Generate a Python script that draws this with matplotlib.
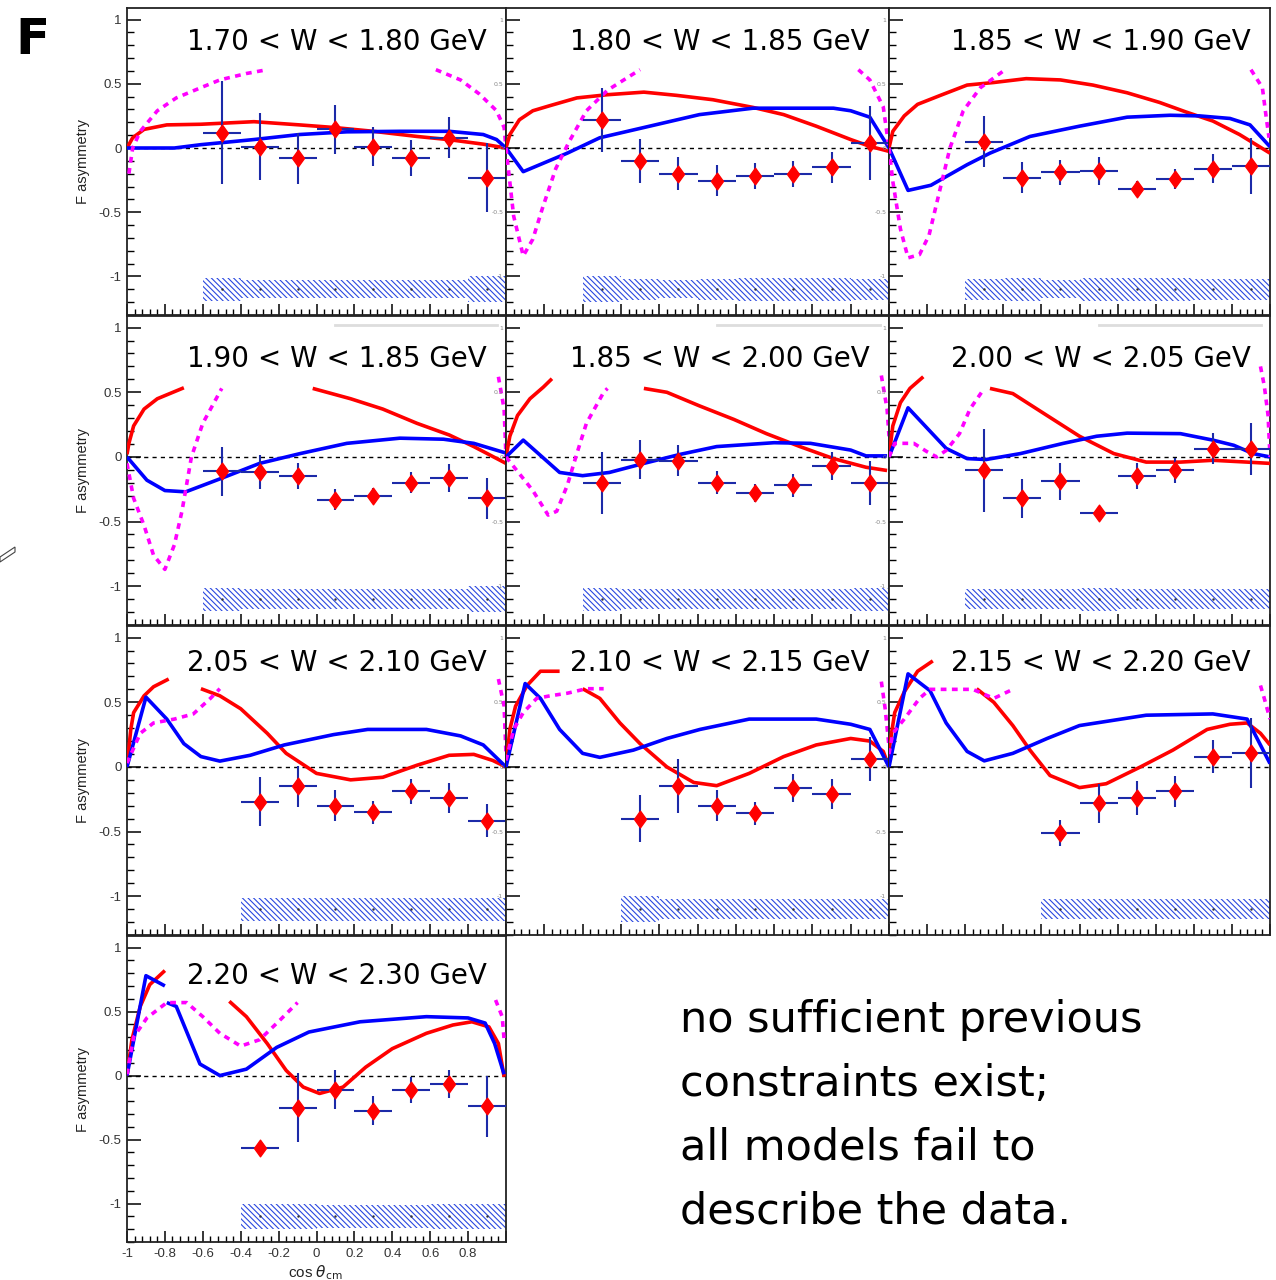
import numpy as np
import matplotlib
matplotlib.use("Agg")
import matplotlib.pyplot as plt
from matplotlib.path import Path
from matplotlib.ticker import MultipleLocator, FixedLocator, FixedFormatter

nan = np.nan

# ---------------- data ----------------
titles = ["1.70 < W < 1.80 GeV", "1.80 < W < 1.85 GeV", "1.85 < W < 1.90 GeV",
          "1.90 < W < 1.85 GeV", "1.85 < W < 2.00 GeV", "2.00 < W < 2.05 GeV",
          "2.05 < W < 2.10 GeV", "2.10 < W < 2.15 GeV", "2.15 < W < 2.20 GeV",
          "2.20 < W < 2.30 GeV"]

bin_centers = [-0.5, -0.3, -0.1, 0.1, 0.3, 0.5, 0.7, 0.9]

asym = [
    [0.12, 0.01, -0.08, 0.145, 0.01, -0.08, 0.08, -0.23],
    [0.22, -0.10, -0.20, -0.255, -0.22, -0.20, -0.15, 0.04],
    [0.05, -0.23, -0.19, -0.18, -0.32, -0.24, -0.16, -0.14],
    [-0.11, -0.115, -0.15, -0.33, -0.30, -0.20, -0.165, -0.32],
    [-0.20, -0.02, -0.03, -0.20, -0.28, -0.22, -0.07, -0.20],
    [-0.105, -0.32, -0.19, -0.43, -0.15, -0.105, 0.065, 0.06],
    [nan, -0.27, -0.15, -0.30, -0.35, -0.19, -0.24, -0.415],
    [nan, -0.40, -0.15, -0.30, -0.36, -0.165, -0.21, 0.065],
    [nan, nan, -0.51, -0.28, -0.24, -0.19, 0.08, 0.105],
    [nan, -0.565, -0.25, -0.11, -0.275, -0.113, -0.066, -0.24],
]
stat_err = [
    [0.40, 0.26, 0.20, 0.19, 0.15, 0.14, 0.16, 0.27],
    [0.25, 0.17, 0.13, 0.12, 0.10, 0.10, 0.12, 0.29],
    [0.20, 0.12, 0.10, 0.11, 0.06, 0.08, 0.11, 0.22],
    [0.19, 0.13, 0.10, 0.08, 0.06, 0.08, 0.11, 0.16],
    [0.24, 0.15, 0.12, 0.09, 0.07, 0.09, 0.11, 0.17],
    [0.32, 0.15, 0.14, 0.05, 0.10, 0.10, 0.12, 0.20],
    [nan, 0.19, 0.16, 0.12, 0.09, 0.10, 0.115, 0.13],
    [nan, 0.18, 0.21, 0.12, 0.09, 0.11, 0.115, 0.17],
    [nan, nan, 0.10, 0.15, 0.13, 0.12, 0.125, 0.27],
    [nan, 0.03, 0.27, 0.155, 0.115, 0.105, 0.11, 0.24],
]
sys_err = [
    [0.09, 0.07, 0.07, 0.07, 0.07, 0.07, 0.07, 0.10],
    [0.10, 0.08, 0.07, 0.08, 0.09, 0.09, 0.09, 0.08],
    [0.08, 0.09, 0.07, 0.09, 0.09, 0.09, 0.08, 0.08],
    [0.09, 0.08, 0.08, 0.08, 0.08, 0.08, 0.08, 0.10],
    [0.09, 0.08, 0.08, 0.08, 0.08, 0.08, 0.08, 0.09],
    [0.08, 0.08, 0.08, 0.09, 0.08, 0.08, 0.08, 0.08],
    [nan, 0.09, 0.09, 0.09, 0.09, 0.09, 0.09, 0.09],
    [nan, 0.10, 0.08, 0.08, 0.08, 0.08, 0.08, 0.08],
    [nan, nan, 0.08, 0.08, 0.08, 0.08, 0.08, 0.08],
    [nan, 0.10, 0.10, 0.09, 0.09, 0.09, 0.10, 0.10],
]
sys_center = -1.1

# model curves (None = hidden behind the title box)
red_curves = [
    [(-1, 0), (-0.97, 0.08), (-0.91, 0.145), (-0.79, 0.18), (-0.61, 0.185), (-0.33, 0.205), (-0.09, 0.18),
     (0.09, 0.16), (0.3, 0.13), (0.53, 0.09), (0.7, 0.065), (0.88, 0.03), (1.0, 0.0)],
    [(-1, 0), (-0.98, 0.105), (-0.93, 0.22), (-0.86, 0.29), (-0.77, 0.33), (-0.63, 0.39), (-0.47, 0.415),
     (-0.28, 0.435), (-0.11, 0.41), (0.08, 0.376), (0.29, 0.316), (0.45, 0.26), (0.62, 0.17), (0.80, 0.066),
     (0.90, 0.013), (1.0, -0.026)],
    [(-1, 0), (-0.98, 0.13), (-0.92, 0.25), (-0.85, 0.34), (-0.73, 0.41), (-0.59, 0.49), (-0.45, 0.51),
     (-0.28, 0.54), (-0.10, 0.53), (0.07, 0.49), (0.25, 0.43), (0.42, 0.355), (0.56, 0.28), (0.70, 0.21),
     (0.84, 0.105), (1.0, -0.04)],
    [(-1, 0.02), (-0.99, 0.105), (-0.965, 0.24), (-0.91, 0.37), (-0.84, 0.45), (-0.70, 0.535), None,
     (-0.02, 0.53), (0.18, 0.45), (0.35, 0.37), (0.53, 0.26), (0.70, 0.17), (0.83, 0.08), (1.0, -0.05)],
    [(-1, 0.0), (-0.98, 0.16), (-0.94, 0.32), (-0.875, 0.45), (-0.805, 0.54), (-0.76, 0.605), None,
     (-0.28, 0.53), (-0.16, 0.5), (0.01, 0.395), (0.19, 0.29), (0.36, 0.18), (0.535, 0.08), (0.71, -0.013),
     (0.88, -0.08), (0.99, -0.105)],
    [(-1, 0), (-0.98, 0.24), (-0.94, 0.42), (-0.89, 0.53), (-0.82, 0.62), None, (-0.47, 0.53), (-0.35, 0.49),
     (-0.17, 0.32), (0.0, 0.16), (0.18, 0.026), (0.35, -0.04), (0.53, -0.04), (0.70, -0.026), (0.88, -0.04),
     (1.0, -0.05)],
    [(-1, 0), (-0.98, 0.29), (-0.965, 0.42), (-0.91, 0.55), (-0.86, 0.62), (-0.78, 0.68), None, (-0.61, 0.605),
     (-0.51, 0.55), (-0.40, 0.45), (-0.26, 0.26), (-0.16, 0.105), (0.0, -0.05), (0.18, -0.10), (0.35, -0.08),
     (0.53, 0.013), (0.70, 0.09), (0.83, 0.097), (0.93, 0.05), (1.0, 0.0)],
    [(-1, 0), (-0.98, 0.29), (-0.95, 0.47), (-0.89, 0.63), (-0.82, 0.74), (-0.72, 0.74), None, (-0.60, 0.605),
     (-0.51, 0.53), (-0.405, 0.34), (-0.30, 0.18), (-0.16, 0.0), (-0.02, -0.12), (0.10, -0.145), (0.27, -0.05),
     (0.45, 0.08), (0.62, 0.17), (0.80, 0.22), (0.90, 0.2), (0.97, 0.12), (1.0, 0.0)],
    [(-1, 0.05), (-0.995, 0.18), (-0.97, 0.42), (-0.92, 0.58), (-0.85, 0.74), (-0.77, 0.82), None,
     (-0.54, 0.605), (-0.45, 0.5), (-0.35, 0.32), (-0.26, 0.13), (-0.155, -0.066), (0.0, -0.16), (0.14, -0.13),
     (0.32, 0.0), (0.49, 0.13), (0.67, 0.29), (0.79, 0.33), (0.88, 0.34), (0.95, 0.26), (1.0, 0.17)],
    [(-1, 0), (-0.974, 0.28), (-0.93, 0.54), (-0.88, 0.71), (-0.80, 0.82), None, (-0.46, 0.58), (-0.37, 0.46),
     (-0.26, 0.25), (-0.16, 0.04), (-0.07, -0.09), (0.016, -0.14), (0.14, -0.09), (0.26, 0.066), (0.40, 0.21),
     (0.58, 0.33), (0.72, 0.395), (0.82, 0.42), (0.91, 0.38), (0.96, 0.25), (0.99, -0.01)],
]
blue_curves = [
    [(-1, 0), (-0.75, 0), (-0.61, 0.026), (-0.33, 0.066), (-0.09, 0.105), (0.16, 0.126), (0.44, 0.13),
     (0.7, 0.13), (0.88, 0.105), (0.95, 0.066), (1.0, 0.0)],
    [(-1, 0), (-0.91, -0.184), (-0.68, -0.04), (-0.51, 0.08), (-0.25, 0.17), (0.01, 0.26), (0.29, 0.31),
     (0.71, 0.31), (0.80, 0.29), (0.90, 0.24), (1.0, 0.0)],
    [(-1, 0), (-0.90, -0.33), (-0.78, -0.29), (-0.59, -0.13), (-0.47, -0.04), (-0.26, 0.09), (0.0, 0.17),
     (0.25, 0.24), (0.475, 0.255), (0.63, 0.25), (0.79, 0.23), (0.895, 0.18), (1.0, 0.01)],
    [(-1, 0), (-0.895, -0.18), (-0.80, -0.26), (-0.69, -0.27), (-0.51, -0.17), (-0.30, -0.05), (-0.086, 0.026),
     (0.16, 0.105), (0.44, 0.145), (0.67, 0.137), (0.83, 0.105), (1.0, 0.03)],
    [(-1, 0), (-0.91, 0.13), (-0.72, -0.12), (-0.60, -0.145), (-0.46, -0.12), (-0.28, -0.05), (-0.09, 0.02),
     (0.10, 0.08), (0.40, 0.11), (0.59, 0.105), (0.80, 0.053), (0.88, 0.008), (0.99, 0.008)],
    [(-1, 0), (-0.90, 0.38), (-0.70, 0.066), (-0.59, -0.013), (-0.49, -0.02), (-0.31, 0.026), (-0.085, 0.105),
     (0.09, 0.16), (0.25, 0.184), (0.53, 0.18), (0.70, 0.13), (0.81, 0.09), (0.91, 0.026), (1.0, 0.0)],
    [(-1, 0), (-0.90, 0.54), (-0.79, 0.37), (-0.70, 0.18), (-0.61, 0.08), (-0.51, 0.045), (-0.35, 0.09),
     (-0.17, 0.17), (0.09, 0.25), (0.27, 0.29), (0.58, 0.29), (0.76, 0.24), (0.88, 0.17), (1.0, 0.0)],
    [(-1, 0), (-0.90, 0.645), (-0.82, 0.53), (-0.72, 0.29), (-0.60, 0.105), (-0.51, 0.074), (-0.335, 0.13),
     (-0.16, 0.22), (0.013, 0.29), (0.27, 0.37), (0.62, 0.37), (0.80, 0.33), (0.90, 0.29), (1.0, 0.0)],
    [(-1, 0), (-0.90, 0.72), (-0.785, 0.59), (-0.70, 0.34), (-0.59, 0.12), (-0.50, 0.047), (-0.35, 0.105),
     (-0.17, 0.22), (0.0, 0.32), (0.35, 0.40), (0.70, 0.41), (0.88, 0.37), (1.0, 0.026)],
    [(-1, 0), (-0.90, 0.78), (-0.80, 0.70), None, (-0.79, 0.57), (-0.74, 0.54), (-0.615, 0.09), (-0.51, 0.0),
     (-0.37, 0.05), (-0.21, 0.22), (-0.04, 0.34), (0.23, 0.42), (0.58, 0.46), (0.80, 0.45), (0.89, 0.41),
     (0.94, 0.25), (0.99, 0.01)],
]
magenta_curves = [
    [(-0.99, -0.2), (-0.97, 0.0), (-0.93, 0.13), (-0.84, 0.29), (-0.74, 0.39), (-0.61, 0.47), (-0.51, 0.53),
     (-0.37, 0.58), (-0.26, 0.61), None, (0.63, 0.61), (0.76, 0.53), (0.86, 0.42), (0.95, 0.29), (0.99, 0.16),
     (1.0, 0.0)],
    [(-1, 0), (-0.96, -0.53), (-0.91, -0.84), (-0.86, -0.71), (-0.81, -0.47), (-0.74, -0.16), (-0.67, 0.05),
     (-0.58, 0.29), (-0.47, 0.45), (-0.30, 0.61), None, (0.84, 0.61), (0.90, 0.53), (0.97, 0.32), (1.0, 0.0)],
    [(-1, 0), (-0.98, -0.26), (-0.94, -0.63), (-0.90, -0.855), (-0.84, -0.83), (-0.79, -0.68), (-0.74, -0.37),
     (-0.68, 0.0), (-0.61, 0.29), (-0.52, 0.47), (-0.39, 0.61), None, (0.90, 0.61), (0.96, 0.47), (0.98, 0.24),
     (0.995, 0.08)],
    [(-1, -0.05), (-0.965, -0.32), (-0.91, -0.53), (-0.86, -0.76), (-0.80, -0.87), (-0.75, -0.68),
     (-0.71, -0.42), (-0.66, 0.0), (-0.60, 0.26), (-0.50, 0.53), None, (0.96, 0.62), (0.99, 0.37), (1.0, 0.0)],
    [(-1, 0), (-0.93, -0.13), (-0.86, -0.26), (-0.78, -0.45), (-0.735, -0.42), (-0.68, -0.22), (-0.63, 0.026),
     (-0.58, 0.26), (-0.49, 0.50), (-0.47, 0.53), None, (0.96, 0.63), (0.99, 0.37), (1.0, 0.16)],
    [(-1, 0), (-0.97, 0.105), (-0.87, 0.105), (-0.80, 0.04), (-0.75, 0.0), (-0.70, 0.05), (-0.63, 0.18),
     (-0.575, 0.37), (-0.50, 0.53), None, (0.95, 0.70), (0.97, 0.55), (0.99, 0.32), (1.0, 0.0)],
    [(-1, 0.03), (-0.93, 0.26), (-0.86, 0.34), (-0.75, 0.37), (-0.65, 0.41), (-0.56, 0.53), (-0.51, 0.605),
     None, (0.96, 0.68), (0.99, 0.47), (1.0, 0.1)],
    [(-1, 0.05), (-0.96, 0.29), (-0.91, 0.42), (-0.84, 0.53), (-0.77, 0.55), (-0.68, 0.57), (-0.58, 0.605),
     (-0.49, 0.605), None, (0.96, 0.66), (0.98, 0.45), (1.0, 0.16)],
    [(-1, 0.1), (-0.98, 0.26), (-0.92, 0.37), (-0.84, 0.53), (-0.785, 0.6), (-0.56, 0.6), (-0.45, 0.53),
     (-0.35, 0.6), None, (0.95, 0.63), (0.97, 0.53), (1.0, 0.37)],
    [(-1, 0.01), (-0.965, 0.30), (-0.895, 0.45), (-0.79, 0.57), (-0.685, 0.57), (-0.60, 0.46), (-0.51, 0.33),
     (-0.40, 0.23), (-0.30, 0.28), (-0.195, 0.43), (-0.10, 0.57), None, (0.945, 0.59), (0.98, 0.46),
     (0.99, 0.28)],
]

x_tick_labels = ["-1", "-0.8", "-0.6", "-0.4", "-0.2", "0", "0.2", "0.4", "0.6", "0.8", ""]
y_tick_labels = ["-1", "-0.5", "0", "0.5", "1"]

note_lines = ["no sufficient previous", "constraints exist;", "all models fail to", "describe the data."]


def to_xy(pts):
    xs, ys = [], []
    for p in pts:
        if p is None:
            xs.append(np.nan); ys.append(np.nan)
        else:
            xs.append(p[0]); ys.append(p[1])
    return np.array(xs), np.array(ys)


# ---------------- figure ----------------
W, H = 1276, 1280
fig = plt.figure(figsize=(W / 100, H / 100), dpi=100)
plt.rcParams['hatch.linewidth'] = 0.8

col_px = [(127, 506), (506, 889), (889, 1270)]
row_px = [(8, 315), (316, 625), (626, 935), (936, 1242)]
title_y = [0.89, 0.86, 0.88, 0.87]

RED = "#ff0000"
BLUE = "#0000ff"
MAG = "#ff00ff"
ERR = "#1c2aa8"
HATCH = "#2a48e0"

diamond = Path([(0, 1), (0.72, 0), (0, -1), (-0.72, 0), (0, 1)],
               [Path.MOVETO, Path.LINETO, Path.LINETO, Path.LINETO, Path.CLOSEPOLY])

tick_font = "Liberation Sans"
title_font = "DejaVu Sans"

for i in range(10):
    r, c = divmod(i, 3)
    x0, x1 = col_px[c]
    y0, y1 = row_px[r]
    ax = fig.add_axes([x0 / W, 1 - y1 / H, (x1 - x0) / W, (y1 - y0) / H])
    ax.set_xlim(-1, 1)
    ax.set_ylim(-1.3, 1.09)

    # systematic band
    sx = np.array(bin_centers)
    sh = np.array(sys_err[i])
    ok = ~np.isnan(sh)
    ax.bar(sx[ok], 2 * sh[ok], bottom=sys_center - sh[ok], width=0.2, fill=False,
           hatch="\\\\\\\\\\\\", edgecolor=HATCH, linewidth=0, zorder=1)
    ax.plot(sx[ok], np.full(ok.sum(), sys_center), ".", color="#333333", ms=1.5, zorder=1)

    # zero line
    ax.axhline(0, color="black", lw=1.0, ls=(0, (3, 3)), zorder=2)

    # model curves
    xr, yr = to_xy(red_curves[i])
    ax.plot(xr, yr, color=RED, lw=2.6, zorder=3, solid_capstyle="butt")
    xb, yb = to_xy(blue_curves[i])
    ax.plot(xb, yb, color=BLUE, lw=2.6, zorder=3, solid_capstyle="butt")
    xm, ym = to_xy(magenta_curves[i])
    ax.plot(xm, ym, color=MAG, lw=2.6, ls=(0, (1.6, 1.5)), zorder=3)

    # data
    ya = np.array(asym[i])
    ea = np.array(stat_err[i])
    okp = ~np.isnan(ya)
    ax.errorbar(sx[okp], ya[okp], xerr=0.1, yerr=ea[okp], fmt="none", ecolor=ERR,
                elinewidth=1.5, capsize=0, zorder=4)
    ax.plot(sx[okp], ya[okp], linestyle="none", marker=diamond, ms=12, color=RED,
            mec=RED, zorder=5)

    # title
    ax.text(0.95, title_y[r], titles[i], transform=ax.transAxes, ha="right", va="center",
            fontsize=20, family=title_font, color="black", zorder=6)

    # faint pave line in row 2
    if r == 1:
        ax.plot([0.55, 0.976], [0.97, 0.97], transform=ax.transAxes, color="#dddddd", lw=2,
                zorder=1, clip_on=False)

    # ticks
    ax.yaxis.set_major_locator(FixedLocator([-1, -0.5, 0, 0.5, 1]))
    ax.yaxis.set_major_formatter(FixedFormatter(y_tick_labels))
    ax.yaxis.set_minor_locator(MultipleLocator(0.1))
    ax.xaxis.set_major_locator(FixedLocator(np.round(np.arange(-1, 1.001, 0.2), 2)))
    ax.xaxis.set_minor_locator(MultipleLocator(0.04))
    ax.tick_params(axis="y", which="major", direction="in", length=10, width=1.1, left=True, right=False)
    ax.tick_params(axis="y", which="minor", direction="in", length=5, width=1.0, left=True, right=False)
    ax.tick_params(axis="x", which="major", direction="in", length=8, width=1.1, bottom=True, top=False)
    ax.tick_params(axis="x", which="minor", direction="in", length=4.5, width=1.0, bottom=True, top=False)

    if c == 0:
        ax.tick_params(axis="y", labelsize=9.5, labelcolor="#333333", pad=4)
        for lab in ax.get_yticklabels():
            lab.set_family(tick_font)
        ax.set_ylabel("F asymmetry", fontsize=10.5, family=tick_font, color="#222222", labelpad=6)
    else:
        ax.tick_params(axis="y", labelsize=4.5, labelcolor="#888888", pad=2)

    if i == 9:
        ax.xaxis.set_major_formatter(FixedFormatter(x_tick_labels))
        ax.tick_params(axis="x", labelsize=9.5, labelcolor="#333333", pad=4)
        for lab in ax.get_xticklabels():
            lab.set_family(tick_font)
    else:
        ax.set_xticklabels([])

    for s in ax.spines.values():
        s.set_linewidth(1.3)
        s.set_color("#222222")

# x axis title (partly cut at the bottom like the reference)
fig.text(315 / W, 1 - 1273 / H, r"cos $\theta_{\rm cm}$", fontsize=11, family=tick_font,
         ha="center", va="center", color="#222222")

# big panel letter
fig.text(32 / W, 1 - 40 / H, "F", fontsize=36, fontweight="bold", family="DejaVu Sans",
         ha="center", va="center")

# small pictogram remnant on the left margin
fig.add_artist(plt.Polygon([(0 / W, 1 - 557 / H), (15 / W, 1 - 547 / H), (15 / W, 1 - 552 / H),
                            (0 / W, 1 - 562 / H)], closed=True, fill=False, ec="#444444", lw=0.8,
                           transform=fig.transFigure))

# note text
note_y = [1020, 1084, 1148, 1212]
for t, yy in zip(note_lines, note_y):
    fig.text(680 / W, 1 - yy / H, t, fontsize=31, family=title_font, ha="left", va="center")

fig.savefig("out.png", dpi=100)
